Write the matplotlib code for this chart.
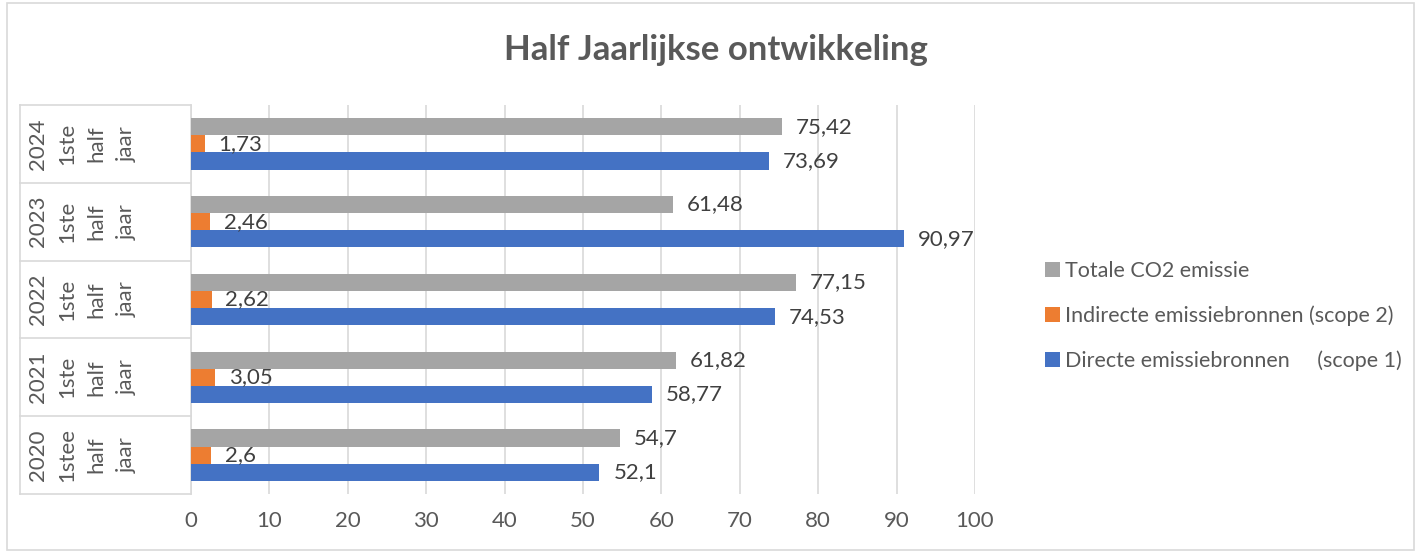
import matplotlib.pyplot as plt
import numpy as np
from matplotlib.patches import Rectangle
from matplotlib.lines import Line2D

plt.rcParams['font.family'] = ['Lato', 'DejaVu Sans']

categories = ['2020\n1stee\nhalf\njaar', '2021\n1ste\nhalf\njaar', '2022\n1ste\nhalf\njaar',
              '2023\n1ste\nhalf\njaar', '2024\n1ste\nhalf\njaar']
direct = [52.1, 58.77, 74.53, 90.97, 73.69]
indirect = [2.6, 3.05, 2.62, 2.46, 1.73]
total = [54.7, 61.82, 77.15, 61.48, 75.42]
series_names = ['Directe emissiebronnen     (scope 1)',
                'Indirecte emissiebronnen (scope 2)',
                'Totale CO2 emissie']
colors = ['#4472C4', '#ED7D31', '#A5A5A5']
txt = '#595959'
line_col = '#D9D9D9'


def fmt(v):
    return ('%g' % v).replace('.', ',')


def main():
    fig = plt.figure(figsize=(14.21, 5.51), dpi=100)
    ax = fig.add_axes([191 / 1421, 1 - 494 / 551, (975 - 191) / 1421, (494 - 105) / 551])

    y = np.arange(len(categories))
    h = 0.22
    for vals, off, col, name in zip([direct, indirect, total], [-h, 0, h], colors, series_names):
        bars = ax.barh(y + off, vals, height=h, color=col, label=name, zorder=3)
        ax.bar_label(bars, labels=[fmt(v) for v in vals], padding=10, fontsize=16, color='#404040')

    ax.set_xlim(0, 100)
    ax.set_ylim(-0.5, len(categories) - 0.5)
    ax.set_xticks(np.arange(0, 101, 10))
    ax.tick_params(axis='x', length=0, labelsize=16, labelcolor=txt, pad=12)
    ax.set_yticks([])
    ax.grid(axis='x', color=line_col, linewidth=1.2, zorder=0)
    for s in ['top', 'right', 'bottom']:
        ax.spines[s].set_visible(False)
    ax.spines['left'].set_color(line_col)
    ax.spines['left'].set_linewidth(1.2)

    # category table on the left
    x0 = -(191 - 20) / (975 - 191) * 100
    for b in np.arange(-0.5, len(categories), 1.0):
        ax.add_line(Line2D([x0, 0], [b, b], color=line_col, lw=1.2, clip_on=False))
    ax.add_line(Line2D([x0, x0], [-0.5, len(categories) - 0.5], color=line_col, lw=1.2,
                       clip_on=False))
    xc = -(191 - 82) / (975 - 191) * 100
    for yi, lab in zip(y, categories):
        ax.text(xc, yi, lab, rotation=90, ha='center', va='center', fontsize=16,
                color=txt, linespacing=1.6, rotation_mode='anchor')

    handles, labels = ax.get_legend_handles_labels()
    fig.legend(handles[::-1], labels[::-1], loc='center left',
               bbox_to_anchor=(1026 / 1421, 1 - 316 / 551), frameon=False, fontsize=15.5,
               labelcolor=txt, handlelength=0.7, handleheight=0.7, handletextpad=0.2,
               labelspacing=1.15)

    fig.text(716 / 1421, 1 - 50 / 551, 'Half Jaarlijkse ontwikkeling', ha='center',
             va='center', fontsize=25, fontweight='bold', color=txt)

    fig.patches.append(Rectangle((7 / 1421, 0.002), 1407 / 1421, 0.993, transform=fig.transFigure,
                                 fill=False, edgecolor=line_col, lw=1.2))

    fig.savefig('out.png', dpi=100)


if __name__ == '__main__':
    main()
